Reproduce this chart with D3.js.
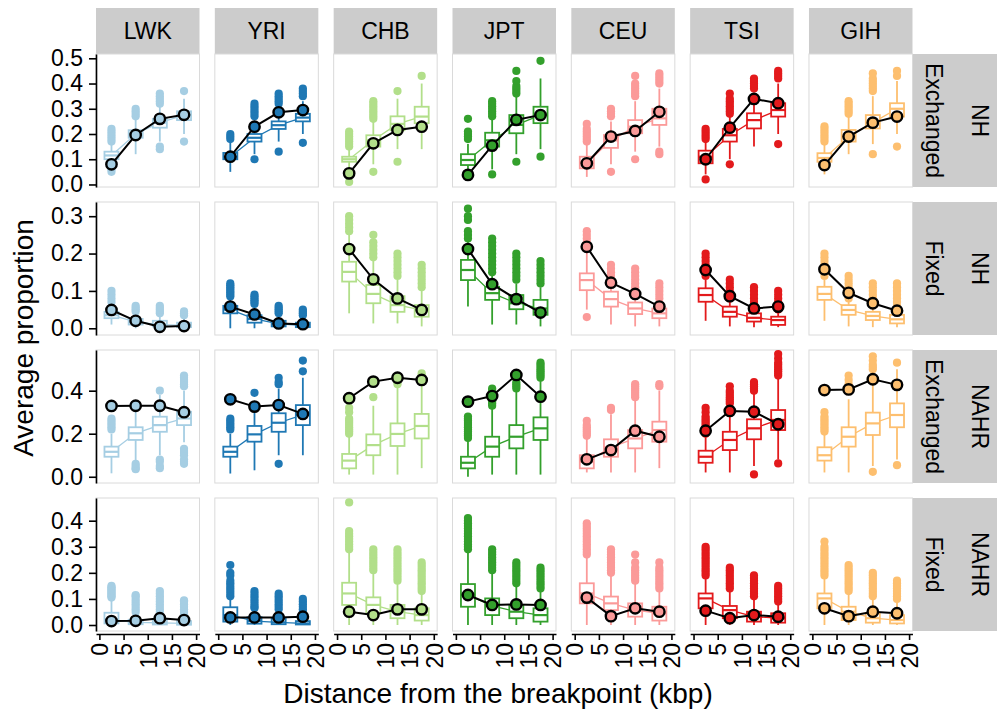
<!DOCTYPE html>
<html>
<head>
<meta charset="utf-8">
<script src="https://cdn.jsdelivr.net/npm/d3@7"></script>
<style>
  body { margin: 0; background: #fff; }
  svg { display: block; }
  text { font-family: "Liberation Sans", Arial, Helvetica, sans-serif; fill: #000; }
</style>
</head>
<body>
<svg id="chart" width="997" height="716"></svg>
<script>
// ---- data -------------------------------------------------------------
const populations = ["LWK", "YRI", "CHB", "JPT", "CEU", "TSI", "GIH"];
const populationColors = ["#a6cee3", "#1f78b4", "#b2df8a", "#33a02c", "#fb9a99", "#e31a1c", "#fdbf6f"];
const mechanisms = ["NH", "NH", "NAHR", "NAHR"];
const alleleStates = ["Exchanged", "Fixed", "Exchanged", "Fixed"];
const binCenters = [2.5, 7.5, 12.5, 17.5];
const xTickValues = [0, 5, 10, 15, 20];
const yTickValues = [
  [0, 0.1, 0.2, 0.3, 0.4, 0.5],
  [0, 0.1, 0.2, 0.3],
  [0, 0.2, 0.4],
  [0, 0.1, 0.2, 0.3, 0.4]
];

// Box summaries per population and bin: [lower whisker, Q1, median, Q3, upper whisker]
const boxesNHExchanged = [
  [[0.07, 0.10, 0.115, 0.13, 0.16], [0.12, 0.185, 0.2, 0.215, 0.26], [0.17, 0.225, 0.245, 0.26, 0.31], [0.2, 0.255, 0.275, 0.29, 0.34]],
  [[0.05, 0.10, 0.11, 0.125, 0.165], [0.12, 0.17, 0.185, 0.2, 0.25], [0.17, 0.22, 0.235, 0.25, 0.3], [0.2, 0.25, 0.265, 0.28, 0.33]],
  [[0.03, 0.09, 0.1, 0.11, 0.14], [0.08, 0.15, 0.175, 0.195, 0.25], [0.14, 0.215, 0.24, 0.27, 0.34], [0.14, 0.243, 0.269, 0.308, 0.4]],
  [[0.03, 0.077, 0.097, 0.12, 0.16], [0.06, 0.15, 0.175, 0.205, 0.26], [0.12, 0.203, 0.236, 0.275, 0.35], [0.14, 0.243, 0.275, 0.308, 0.42]],
  [[0.03, 0.064, 0.085, 0.11, 0.16], [0.08, 0.145, 0.175, 0.196, 0.25], [0.13, 0.203, 0.229, 0.255, 0.33], [0.15, 0.236, 0.262, 0.3, 0.38]],
  [[0.04, 0.084, 0.11, 0.134, 0.17], [0.1, 0.17, 0.195, 0.22, 0.27], [0.15, 0.222, 0.255, 0.282, 0.36], [0.2, 0.269, 0.295, 0.322, 0.4]],
  [[0.04, 0.09, 0.105, 0.124, 0.16], [0.12, 0.17, 0.19, 0.216, 0.27], [0.16, 0.222, 0.245, 0.275, 0.35], [0.2, 0.269, 0.3, 0.322, 0.41]]
];
const outliersNHExchanged = [
  [[0.05, 0.06, 0.17, 0.18, 0.19, 0.2, 0.21, 0.22], [0.27, 0.28, 0.29, 0.3], [0.14, 0.15, 0.32, 0.33, 0.34, 0.35, 0.36], [0.17, 0.37]],
  [[0.18, 0.19, 0.2], [0.1, 0.27, 0.28, 0.29, 0.3, 0.31, 0.32], [0.13, 0.32, 0.33, 0.34, 0.35, 0.36], [0.165, 0.35, 0.36, 0.37, 0.38]],
  [[0.01, 0.15, 0.16, 0.17, 0.18, 0.19, 0.2, 0.21], [0.05, 0.26, 0.27, 0.28, 0.29, 0.3, 0.31, 0.32, 0.33], [0.09, 0.37], [0.43]],
  [[0.18, 0.19, 0.2, 0.21, 0.26], [0.04, 0.27, 0.28, 0.29, 0.3, 0.31, 0.32, 0.33], [0.09, 0.36, 0.37, 0.38, 0.39, 0.41, 0.45], [0.11, 0.49]],
  [[0.17, 0.18, 0.19, 0.2, 0.21, 0.22, 0.24], [0.05, 0.27, 0.28, 0.29, 0.3], [0.1, 0.35, 0.36, 0.37, 0.38, 0.39, 0.4, 0.43], [0.12, 0.13, 0.4, 0.41, 0.42, 0.43, 0.44]],
  [[0.02, 0.18, 0.19, 0.2, 0.21, 0.22], [0.08, 0.28, 0.29, 0.3, 0.31, 0.32, 0.33, 0.34, 0.36], [0.38, 0.39, 0.4, 0.41, 0.42], [0.16, 0.42, 0.43, 0.44, 0.45]],
  [[0.17, 0.18, 0.19, 0.2, 0.21, 0.22, 0.23], [0.28, 0.29, 0.3, 0.31, 0.32, 0.33], [0.12, 0.37, 0.38, 0.39, 0.4, 0.41, 0.42, 0.44], [0.15, 0.43, 0.45]]
];
const observedNHExchanged = [
  [0.08, 0.196, 0.26, 0.276],
  [0.11, 0.229, 0.286, 0.295],
  [0.044, 0.163, 0.216, 0.229],
  [0.038, 0.154, 0.256, 0.275],
  [0.084, 0.19, 0.212, 0.288],
  [0.1, 0.225, 0.339, 0.322],
  [0.077, 0.19, 0.245, 0.269]
];

const boxesNHFixed = [
  [[0.01, 0.027, 0.035, 0.044, 0.065], [0.0, 0.01, 0.017, 0.025, 0.04], [0.0, 0.005, 0.01, 0.02, 0.035], [0.0, 0.003, 0.008, 0.015, 0.03]],
  [[0.0, 0.04, 0.05, 0.06, 0.08], [0.0, 0.015, 0.025, 0.035, 0.06], [0.0, 0.005, 0.012, 0.02, 0.035], [0.0, 0.003, 0.008, 0.015, 0.03]],
  [[0.04, 0.125, 0.151, 0.178, 0.25], [0.013, 0.067, 0.092, 0.116, 0.18], [0.013, 0.044, 0.062, 0.086, 0.13], [0.005, 0.031, 0.049, 0.062, 0.1]],
  [[0.058, 0.129, 0.156, 0.183, 0.23], [0.01, 0.076, 0.094, 0.111, 0.14], [0.01, 0.051, 0.067, 0.089, 0.12], [0.005, 0.036, 0.053, 0.076, 0.11]],
  [[0.05, 0.102, 0.129, 0.147, 0.21], [0.01, 0.058, 0.078, 0.098, 0.11], [0.005, 0.038, 0.053, 0.069, 0.09], [0.005, 0.027, 0.04, 0.053, 0.07]],
  [[0.02, 0.071, 0.089, 0.107, 0.13], [0.005, 0.031, 0.044, 0.058, 0.075], [0.003, 0.018, 0.028, 0.04, 0.055], [0.003, 0.009, 0.022, 0.031, 0.045]],
  [[0.02, 0.076, 0.092, 0.111, 0.13], [0.005, 0.036, 0.049, 0.062, 0.075], [0.003, 0.022, 0.033, 0.044, 0.06], [0.003, 0.013, 0.024, 0.036, 0.05]]
];
const outliersNHFixed = [
  [[0.07, 0.08, 0.09, 0.1], [0.045, 0.05, 0.055, 0.06], [0.04, 0.045, 0.05, 0.055, 0.06], [0.035, 0.04, 0.045]],
  [[0.085, 0.09, 0.095, 0.1, 0.105, 0.11, 0.115, 0.12], [0.065, 0.07, 0.075, 0.08, 0.085, 0.09], [0.04, 0.045, 0.05, 0.055, 0.06], [0.035, 0.04, 0.045, 0.05]],
  [[0.26, 0.27, 0.28, 0.29, 0.3], [0.19, 0.2, 0.21, 0.22, 0.23, 0.25], [0.14, 0.15, 0.16, 0.17, 0.18, 0.19, 0.2], [0.11, 0.12, 0.13, 0.14, 0.15, 0.16, 0.17]],
  [[0.24, 0.25, 0.26, 0.29, 0.3, 0.32], [0.15, 0.16, 0.17, 0.18, 0.19, 0.2, 0.21, 0.22, 0.23, 0.24], [0.13, 0.14, 0.15, 0.16, 0.17, 0.18, 0.19, 0.2], [0.12, 0.13, 0.14, 0.15, 0.16, 0.17, 0.18]],
  [[0.03, 0.22, 0.23, 0.24, 0.25, 0.26], [0.12, 0.13, 0.14, 0.15, 0.16, 0.17], [0.1, 0.11, 0.12, 0.13, 0.14, 0.15, 0.16], [0.08, 0.09, 0.1, 0.11, 0.12]],
  [[0.14, 0.15, 0.16, 0.17, 0.18, 0.19, 0.2], [0.08, 0.09, 0.1, 0.11, 0.12, 0.13], [0.06, 0.07, 0.08, 0.09, 0.1, 0.11], [0.05, 0.06, 0.07, 0.08, 0.09, 0.1]],
  [[0.14, 0.15, 0.16, 0.17, 0.18, 0.19, 0.2], [0.08, 0.09, 0.1, 0.11, 0.12, 0.13, 0.14], [0.07, 0.08, 0.09, 0.1, 0.11, 0.12], [0.06, 0.07, 0.08, 0.09, 0.1, 0.11, 0.12]]
];
const observedNHFixed = [
  [0.049, 0.02, 0.004, 0.006],
  [0.058, 0.037, 0.013, 0.011],
  [0.212, 0.131, 0.08, 0.049],
  [0.212, 0.118, 0.078, 0.042],
  [0.218, 0.122, 0.092, 0.058],
  [0.156, 0.086, 0.053, 0.058],
  [0.158, 0.095, 0.067, 0.047]
];

const boxesNAHRExchanged = [
  [[0.016, 0.093, 0.116, 0.14, 0.2], [0.07, 0.171, 0.202, 0.23, 0.34], [0.1, 0.209, 0.24, 0.279, 0.38], [0.16, 0.24, 0.271, 0.302, 0.4]],
  [[0.015, 0.093, 0.116, 0.14, 0.2], [0.03, 0.163, 0.197, 0.236, 0.34], [0.1, 0.209, 0.251, 0.295, 0.41], [0.1, 0.24, 0.287, 0.333, 0.46]],
  [[0.01, 0.039, 0.075, 0.106, 0.19], [0.01, 0.1, 0.147, 0.197, 0.33], [0.01, 0.143, 0.199, 0.248, 0.42], [0.04, 0.178, 0.236, 0.292, 0.45]],
  [[0.0, 0.039, 0.065, 0.093, 0.17], [0.01, 0.093, 0.14, 0.186, 0.32], [0.01, 0.132, 0.186, 0.24, 0.4], [0.01, 0.171, 0.225, 0.276, 0.45]],
  [[0.02, 0.039, 0.07, 0.1, 0.18], [0.02, 0.093, 0.137, 0.174, 0.29], [0.02, 0.132, 0.178, 0.217, 0.36], [0.04, 0.163, 0.217, 0.256, 0.4]],
  [[0.02, 0.065, 0.093, 0.121, 0.19], [0.02, 0.124, 0.171, 0.209, 0.33], [0.05, 0.174, 0.225, 0.267, 0.39], [0.08, 0.217, 0.264, 0.31, 0.46]],
  [[0.02, 0.075, 0.1, 0.137, 0.2], [0.02, 0.14, 0.186, 0.23, 0.36], [0.05, 0.194, 0.248, 0.298, 0.48], [0.08, 0.23, 0.287, 0.341, 0.5]]
];
const outliersNAHRExchanged = [
  [[0.22, 0.23, 0.24, 0.25, 0.26, 0.27], [0.035, 0.04, 0.05, 0.06], [0.04, 0.05, 0.07, 0.08, 0.4], [0.06, 0.07, 0.08, 0.1, 0.11, 0.12, 0.13, 0.42, 0.43, 0.44, 0.45, 0.46, 0.47]],
  [[0.22, 0.23, 0.24, 0.25, 0.26, 0.27], [0.39], [0.06, 0.43, 0.44, 0.46], [0.49, 0.54]],
  [[0.2, 0.21, 0.22, 0.23, 0.24, 0.25, 0.26, 0.27, 0.3, 0.32], [0.37], [0.43, 0.44], [0.46, 0.47, 0.48]],
  [[0.18, 0.19, 0.2, 0.21, 0.22, 0.23, 0.24, 0.25, 0.26, 0.27, 0.28], [0.33, 0.34, 0.35, 0.36, 0.37, 0.38, 0.39, 0.4, 0.41], [0.41, 0.42, 0.43, 0.44], [0.46, 0.47, 0.48, 0.49, 0.5, 0.51, 0.52, 0.53]],
  [[0.19, 0.2, 0.21, 0.22, 0.23, 0.24, 0.26], [0.31, 0.32], [0.37, 0.38, 0.39, 0.4, 0.41, 0.42, 0.43], [0.42, 0.43]],
  [[0.2, 0.21, 0.22, 0.23, 0.24, 0.25, 0.26, 0.27, 0.28, 0.3, 0.32], [0.34, 0.35, 0.36, 0.37, 0.38, 0.39, 0.4, 0.42], [0.011, 0.4, 0.41, 0.42, 0.43, 0.44], [0.062, 0.47, 0.48, 0.49, 0.5, 0.51, 0.52, 0.53, 0.55, 0.57]],
  [[0.21, 0.22, 0.23, 0.24, 0.25, 0.26, 0.27, 0.28, 0.3], [0.4, 0.41, 0.43, 0.45, 0.47], [0.023, 0.5, 0.51, 0.52, 0.54, 0.56], [0.054, 0.53]]
];
const observedNAHRExchanged = [
  [0.329, 0.33, 0.33, 0.3],
  [0.36, 0.326, 0.333, 0.292],
  [0.365, 0.442, 0.46, 0.45],
  [0.349, 0.375, 0.473, 0.372],
  [0.081, 0.124, 0.214, 0.186],
  [0.214, 0.306, 0.302, 0.244],
  [0.403, 0.406, 0.453, 0.427]
];

const boxesNAHRFixed = [
  [[0.0, 0.006, 0.02, 0.047, 0.1], [0.0, 0.003, 0.01, 0.02, 0.045], [0.0, 0.002, 0.008, 0.02, 0.045], [0.0, 0.001, 0.006, 0.015, 0.035]],
  [[0.0, 0.013, 0.038, 0.068, 0.1], [0.0, 0.005, 0.015, 0.03, 0.06], [0.0, 0.003, 0.01, 0.025, 0.055], [0.0, 0.002, 0.006, 0.015, 0.035]],
  [[0.0, 0.077, 0.121, 0.162, 0.28], [0.0, 0.045, 0.077, 0.106, 0.2], [0.0, 0.026, 0.051, 0.077, 0.16], [0.0, 0.017, 0.038, 0.064, 0.12]],
  [[0.0, 0.07, 0.115, 0.157, 0.28], [0.0, 0.038, 0.073, 0.102, 0.2], [0.0, 0.026, 0.051, 0.077, 0.15], [0.0, 0.013, 0.038, 0.064, 0.13]],
  [[0.0, 0.083, 0.121, 0.16, 0.26], [0.0, 0.057, 0.083, 0.109, 0.19], [0.0, 0.032, 0.057, 0.083, 0.16], [0.0, 0.017, 0.045, 0.07, 0.13]],
  [[0.0, 0.064, 0.102, 0.121, 0.18], [0.0, 0.026, 0.057, 0.073, 0.13], [0.0, 0.013, 0.032, 0.051, 0.1], [0.0, 0.009, 0.026, 0.045, 0.08]],
  [[0.0, 0.064, 0.102, 0.121, 0.18], [0.0, 0.019, 0.051, 0.07, 0.12], [0.0, 0.009, 0.026, 0.045, 0.1], [0.0, 0.006, 0.019, 0.038, 0.09]]
];
const outliersNAHRFixed = [
  [[0.105, 0.11, 0.115, 0.12, 0.125, 0.13, 0.135, 0.14, 0.145, 0.15], [0.05, 0.06, 0.07, 0.08, 0.09, 0.1, 0.11, 0.115], [0.05, 0.06, 0.07, 0.08, 0.09, 0.1, 0.11, 0.12, 0.13], [0.04, 0.05, 0.06, 0.07, 0.08, 0.09, 0.095]],
  [[0.11, 0.12, 0.13, 0.14, 0.15, 0.16, 0.17, 0.19, 0.2, 0.23], [0.065, 0.07, 0.08, 0.09, 0.1, 0.11, 0.12, 0.13], [0.06, 0.07, 0.08, 0.09, 0.1, 0.11, 0.12], [0.04, 0.05, 0.06, 0.07, 0.08, 0.09, 0.1]],
  [[0.29, 0.3, 0.31, 0.32, 0.33, 0.34, 0.35, 0.36, 0.47], [0.21, 0.22, 0.23, 0.24, 0.25, 0.26, 0.27, 0.28, 0.29], [0.17, 0.18, 0.19, 0.2, 0.21, 0.22, 0.23, 0.24, 0.25, 0.26, 0.27, 0.28, 0.29], [0.13, 0.14, 0.15, 0.16, 0.17, 0.18, 0.19, 0.2, 0.21, 0.22, 0.23, 0.24]],
  [[0.29, 0.3, 0.31, 0.32, 0.33, 0.34, 0.35, 0.36, 0.37, 0.38, 0.39, 0.4, 0.41], [0.21, 0.22, 0.23, 0.24, 0.25, 0.26, 0.27, 0.28, 0.29], [0.16, 0.17, 0.18, 0.19, 0.2, 0.21, 0.22, 0.23, 0.24], [0.14, 0.15, 0.16, 0.17, 0.18, 0.19, 0.2, 0.21, 0.22]],
  [[0.27, 0.28, 0.29, 0.3, 0.31, 0.32, 0.33, 0.34, 0.35, 0.36, 0.37, 0.38, 0.39], [0.2, 0.21, 0.22, 0.23, 0.24, 0.25, 0.26, 0.27, 0.28, 0.29], [0.17, 0.18, 0.19, 0.2, 0.21, 0.22, 0.24, 0.27], [0.14, 0.15, 0.16, 0.17, 0.18, 0.19, 0.2, 0.21, 0.22, 0.24]],
  [[0.19, 0.2, 0.21, 0.22, 0.23, 0.24, 0.25, 0.26, 0.27, 0.28, 0.29, 0.3], [0.14, 0.15, 0.16, 0.17, 0.18, 0.19, 0.2, 0.21, 0.22], [0.11, 0.12, 0.13, 0.14, 0.15, 0.16, 0.17, 0.18, 0.19], [0.09, 0.1, 0.11, 0.12, 0.13, 0.14, 0.15]],
  [[0.19, 0.2, 0.21, 0.22, 0.23, 0.24, 0.25, 0.26, 0.27, 0.28, 0.29, 0.3, 0.32], [0.13, 0.14, 0.15, 0.16, 0.17, 0.18, 0.19, 0.2, 0.21, 0.22, 0.23], [0.11, 0.12, 0.13, 0.14, 0.15, 0.16, 0.17, 0.18, 0.19, 0.2], [0.1, 0.11, 0.12, 0.13, 0.14, 0.15, 0.16, 0.17]]
];
const observedNAHRFixed = [
  [0.015, 0.016, 0.026, 0.019],
  [0.029, 0.029, 0.029, 0.032],
  [0.051, 0.038, 0.06, 0.06],
  [0.115, 0.077, 0.079, 0.077],
  [0.105, 0.034, 0.064, 0.051],
  [0.055, 0.026, 0.038, 0.032],
  [0.064, 0.034, 0.051, 0.045]
];

const facetRows = [
  { boxes: boxesNHExchanged, outliers: outliersNHExchanged, observed: observedNHExchanged },
  { boxes: boxesNHFixed, outliers: outliersNHFixed, observed: observedNHFixed },
  { boxes: boxesNAHRExchanged, outliers: outliersNAHRExchanged, observed: observedNAHRExchanged },
  { boxes: boxesNAHRFixed, outliers: outliersNAHRFixed, observed: observedNAHRFixed }
];

// ---- layout -----------------------------------------------------------
const panelLeft0 = 96, panelStepX = 118.83, panelW = 103.5;
const panelTop0 = 54, panelStepY = 148, panelH = 133;
const stripTop = 8, stripH = 46;
const xDomain = [-0.7, 20.7];
const yDomains = [[-0.01, 0.517], [-0.018, 0.338], [-0.029, 0.589], [-0.023, 0.487]];
const boxWidth = 2.9;        // in kbp units
const outlierRadius = 4.1;
const pointRadius = 5.2;
const labelSize = "23px", titleSize = "28px";

const svg = d3.select("#chart");
const fmt = d3.format(".1f");

// column strips (population names)
populations.forEach((pop, c) => {
  const left = panelLeft0 + c * panelStepX;
  svg.append("rect")
    .attr("x", left).attr("y", stripTop)
    .attr("width", panelW).attr("height", stripH)
    .attr("fill", "#cccccc");
  svg.append("text")
    .attr("x", left + panelW / 2).attr("y", stripTop + stripH / 2)
    .attr("dy", "0.36em")
    .attr("text-anchor", "middle")
    .style("font-size", labelSize)
    .text(pop);
});

// row strips (allele state and mechanism)
const rowStripLeft = panelLeft0 + 6 * panelStepX + panelW;
facetRows.forEach((row, r) => {
  const top = panelTop0 + r * panelStepY;
  svg.append("rect")
    .attr("x", rowStripLeft).attr("y", top)
    .attr("width", 997 - rowStripLeft).attr("height", panelH)
    .attr("fill", "#cccccc");
  [[alleleStates[r], 22], [mechanisms[r], 68]].forEach(([label, dx]) => {
    svg.append("text")
      .attr("transform", `translate(${rowStripLeft + dx},${top + panelH / 2}) rotate(90)`)
      .attr("dy", "0.36em")
      .attr("text-anchor", "middle")
      .style("font-size", labelSize)
      .text(label);
  });
});

// panels
facetRows.forEach((row, r) => {
  const top = panelTop0 + r * panelStepY;
  const y = d3.scaleLinear().domain(yDomains[r]).range([top + panelH, top]);

  populations.forEach((pop, c) => {
    const left = panelLeft0 + c * panelStepX;
    const x = d3.scaleLinear().domain(xDomain).range([left, left + panelW]);
    const color = populationColors[c];
    const g = svg.append("g");

    g.append("rect")
      .attr("x", left).attr("y", top)
      .attr("width", panelW).attr("height", panelH)
      .attr("fill", "#fff")
      .attr("stroke", "#dadada").attr("stroke-width", 1);

    const boxes = row.boxes[c];

    // whiskers
    g.selectAll(".whisker").data(boxes).join("line")
      .attr("x1", (d, i) => x(binCenters[i])).attr("x2", (d, i) => x(binCenters[i]))
      .attr("y1", d => y(d[0])).attr("y2", d => y(d[4]))
      .attr("stroke", color).attr("stroke-width", 1.8);

    // outliers
    boxes.forEach((d, i) => {
      g.selectAll(null).data(row.outliers[c][i]).join("circle")
        .attr("cx", x(binCenters[i])).attr("cy", v => y(v))
        .attr("r", outlierRadius)
        .attr("fill", color);
    });

    // line through the medians
    g.append("path")
      .datum(boxes.map((d, i) => [binCenters[i], d[2]]))
      .attr("d", d3.line().x(d => x(d[0])).y(d => y(d[1])))
      .attr("fill", "none").attr("stroke", color).attr("stroke-width", 1.3);

    // boxes
    g.selectAll(".box").data(boxes).join("rect")
      .attr("x", (d, i) => x(binCenters[i] - boxWidth / 2))
      .attr("width", x(boxWidth) - x(0))
      .attr("y", d => y(d[3]))
      .attr("height", d => y(d[1]) - y(d[3]))
      .attr("fill", "#fff")
      .attr("stroke", color).attr("stroke-width", 1.8);

    g.selectAll(".median").data(boxes).join("line")
      .attr("x1", (d, i) => x(binCenters[i] - boxWidth / 2))
      .attr("x2", (d, i) => x(binCenters[i] + boxWidth / 2))
      .attr("y1", d => y(d[2])).attr("y2", d => y(d[2]))
      .attr("stroke", color).attr("stroke-width", 2.2);

    // observed proportions
    const obs = row.observed[c].map((v, i) => [binCenters[i], v]);
    g.append("path")
      .datum(obs)
      .attr("d", d3.line().x(d => x(d[0])).y(d => y(d[1])))
      .attr("fill", "none").attr("stroke", "#000").attr("stroke-width", 2);
    g.selectAll(".obs").data(obs).join("circle")
      .attr("cx", d => x(d[0])).attr("cy", d => y(d[1]))
      .attr("r", pointRadius)
      .attr("fill", color)
      .attr("stroke", "#000").attr("stroke-width", 2.4);

    // y axis on the first column
    if (c === 0) {
      const ax = svg.append("g")
        .attr("transform", `translate(${left},0)`)
        .call(d3.axisLeft(y).tickValues(yTickValues[r]).tickFormat(fmt).tickSize(7).tickSizeOuter(0).tickPadding(6));
      ax.attr("font-family", null).attr("font-size", null);
      ax.select(".domain").attr("stroke", "#000").attr("stroke-width", 1.6);
      ax.selectAll(".tick line").attr("stroke", "#000").attr("stroke-width", 1.6);
      ax.selectAll(".tick text").style("font-size", labelSize).attr("fill", "#000");
    }

    // x axis on the bottom row
    if (r === facetRows.length - 1) {
      const ax = svg.append("g")
        .attr("transform", `translate(0,${top + panelH + 3})`)
        .call(d3.axisBottom(x).tickValues(xTickValues).tickSize(6).tickSizeOuter(0));
      ax.attr("font-family", null).attr("font-size", null);
      ax.select(".domain").attr("stroke", "#000").attr("stroke-width", 1.6);
      ax.selectAll(".tick line").attr("stroke", "#000").attr("stroke-width", 1.6);
      ax.selectAll(".tick text")
        .style("font-size", labelSize).attr("fill", "#000")
        .attr("transform", "rotate(-90)")
        .attr("x", -9).attr("y", 0).attr("dy", "0.36em")
        .attr("text-anchor", "end");
    }
  });
});

// axis titles
svg.append("text")
  .attr("x", 498).attr("y", 703)
  .attr("text-anchor", "middle")
  .style("font-size", titleSize)
  .text("Distance from the breakpoint (kbp)");
svg.append("text")
  .attr("transform", "translate(33,338) rotate(-90)")
  .attr("text-anchor", "middle")
  .style("font-size", titleSize)
  .text("Average proportion");
</script>
</body>
</html>
